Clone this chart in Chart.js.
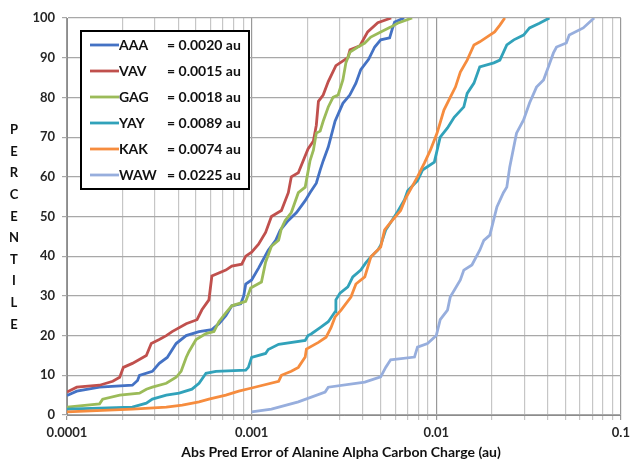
<!DOCTYPE html>
<html>
<head>
<meta charset="utf-8">
<script src="https://cdn.jsdelivr.net/npm/chart.js@4/dist/chart.umd.min.js"></script>
<style>
  html, body { margin: 0; padding: 0; background: #fff; }
  #wrap { width: 635px; height: 461px; position: relative; }
</style>
</head>
<body>
<div id="wrap"><canvas id="chart"></canvas></div>
<script>
// Series names and the values shown in the legend
const seriesNames = ['AAA', 'VAV', 'GAG', 'YAY', 'KAK', 'WAW'];
const legendValues = ['0.0020', '0.0015', '0.0018', '0.0089', '0.0074', '0.0225'];
const seriesColors = ['#4472C4', '#C0504D', '#9BBB59', '#31A2BA', '#F68C3E', '#97AEDD'];

// x tick labels (decades)
const xTickValues = [0.0001, 0.001, 0.01, 0.1];
const xTickLabels = ['0.0001', '0.001', '0.01', '0.1'];
const yTickValues = [0, 10, 20, 30, 40, 50, 60, 70, 80, 90, 100];

const xTitle = 'Abs Pred Error of Alanine Alpha Carbon Charge (au)';
const yTitle = 'PERCENTILE';

// [abs error, percentile]
const aaaData = [[1e-4,4.9],[1.13e-4,6],[1.5e-4,7],[2.26e-4,7.5],[2.41e-4,8.7],[2.47e-4,10],[2.9e-4,11],[3.16e-4,13],
  [3.49e-4,14.5],[3.9e-4,18],[4.42e-4,20],[5.19e-4,21],[6.09e-4,21.5],[6.65e-4,23],[7.25e-4,25],[7.81e-4,27.5],
  [8.73e-4,28],[9.06e-4,30],[9.29e-4,33],[1.0e-3,34],[1.09e-3,37],[1.23e-3,41.5],[1.35e-3,44],[1.43e-3,46.6],
  [1.58e-3,49],[1.75e-3,51],[1.95e-3,54],[2.07e-3,56],[2.24e-3,58.4],[2.35e-3,61.7],[2.44e-3,64],[2.6e-3,67.5],
  [2.83e-3,74],[3.12e-3,78.5],[3.4e-3,80.6],[3.67e-3,83.6],[3.9e-3,87],[4.3e-3,89.6],[4.64e-3,92.7],[5.0e-3,94.5],
  [5.59e-3,95],[5.8e-3,97.5],[5.95e-3,99],[6.7e-3,100]];

const vavData = [[1e-4,5.8],[1.13e-4,7],[1.5e-4,7.5],[1.77e-4,8.5],[1.93e-4,9.5],[2.02e-4,12],[2.26e-4,13],[2.69e-4,15],
  [2.86e-4,18],[3.16e-4,19],[3.45e-4,20],[3.71e-4,21],[4.42e-4,23],[5.06e-4,24],[5.38e-4,26.5],[5.87e-4,29],
  [6.09e-4,35],[7.25e-4,36.5],[7.81e-4,37.5],[8.84e-4,38],[9.29e-4,40],[1.0e-3,41],[1.09e-3,43],[1.19e-3,46],
  [1.28e-3,50],[1.45e-3,51.5],[1.58e-3,56],[1.64e-3,60],[1.79e-3,61],[1.9e-3,64],[2.02e-3,67],[2.16e-3,69],
  [2.24e-3,73],[2.3e-3,79],[2.44e-3,80.6],[2.6e-3,84],[2.86e-3,88],[3.32e-3,90],[3.41e-3,92],[3.86e-3,93],
  [4.25e-3,96.5],[4.82e-3,98.8],[5.7e-3,100]];

const gagData = [[1e-4,2],[1.5e-4,2.8],[1.56e-4,4],[1.93e-4,5],[2.47e-4,5.5],[2.69e-4,6.5],[2.9e-4,7],[3.45e-4,8],
  [3.9e-4,9.5],[4.15e-4,11],[4.42e-4,14.5],[4.58e-4,16],[5.0e-4,19],[5.66e-4,20.5],[6.25e-4,21],[6.65e-4,23.5],
  [7.25e-4,25.7],[7.81e-4,27.5],[9.29e-4,28.6],[9.88e-4,32],[1.13e-3,33.5],[1.19e-3,38.5],[1.28e-3,42.5],
  [1.4e-3,44],[1.45e-3,47],[1.52e-3,49],[1.64e-3,51],[1.79e-3,56],[1.95e-3,57.4],[2.07e-3,64],[2.16e-3,66.7],
  [2.24e-3,71],[2.35e-3,71.5],[2.44e-3,74],[2.6e-3,77.6],[2.76e-3,80],[2.94e-3,80.6],[3.12e-3,84.4],
  [3.24e-3,88.7],[3.41e-3,91.4],[3.76e-3,92.7],[4.1e-3,93.7],[4.42e-3,95.2],[5.0e-3,96.5],[5.66e-3,97.7],
  [6.17e-3,98.7],[7.4e-3,100]];

const yayData = [[1e-4,1.5],[2.26e-4,2],[2.69e-4,3],[2.9e-4,4],[3.45e-4,5],[4.05e-4,5.5],[4.75e-4,6.5],[5.19e-4,8],
  [5.66e-4,10.5],[6.41e-4,11],[9.29e-4,11.3],[9.6e-4,12],[1.0e-3,14.5],[1.19e-3,15.5],[1.23e-3,16.5],
  [1.4e-3,17.8],[1.95e-3,18.8],[2.02e-3,20],[2.1e-3,20.4],[2.35e-3,22],[2.6e-3,23.5],[2.83e-3,26],[2.86e-3,29],
  [3.01e-3,30.7],[3.32e-3,32.3],[3.53e-3,34.8],[3.9e-3,36.5],[4.15e-3,38.3],[4.42e-3,39.8],[4.82e-3,41.5],
  [5.0e-3,42.8],[5.32e-3,46.6],[5.66e-3,48.5],[6.17e-3,51.2],[6.73e-3,54.2],[7.0e-3,56.5],[7.91e-3,59],
  [8.42e-3,61.7],[9.76e-3,63.7],[1.05e-2,70],[1.15e-2,72.3],[1.25e-2,75],[1.41e-2,77.6],[1.47e-2,81],
  [1.6e-2,83.6],[1.72e-2,87.7],[2.05e-2,88.7],[2.21e-2,89.4],[2.41e-2,93.2],[2.63e-2,94.5],[2.97e-2,95.7],
  [3.2e-2,97.5],[3.62e-2,98.7],[4.1e-2,100]];

const kakData = [[1e-4,0.8],[2.26e-4,1.5],[3.45e-4,2],[4.21e-4,2.5],[5.19e-4,3.3],[5.87e-4,4],[7.25e-4,5],
  [8.52e-4,6],[1.0e-3,6.8],[1.4e-3,8.5],[1.45e-3,10],[1.64e-3,11],[1.79e-3,12],[1.95e-3,14.6],[1.98e-3,16.6],
  [2.3e-3,18.3],[2.53e-3,19.6],[2.69e-3,22],[2.83e-3,24.7],[3.05e-3,26.4],[3.45e-3,29.7],[3.67e-3,33],
  [4.1e-3,34.8],[4.42e-3,39.8],[4.64e-3,40.8],[5.0e-3,42.3],[5.25e-3,46.6],[5.66e-3,48.5],[6.41e-3,51.5],
  [6.81e-3,54.5],[7.91e-3,60],[8.63e-3,63.5],[9.29e-3,66.7],[1.01e-2,71],[1.1e-2,76.8],[1.19e-2,80],
  [1.27e-2,82.6],[1.35e-2,86.4],[1.47e-2,89.4],[1.6e-2,93.2],[1.72e-2,94],[1.95e-2,95.7],[2.07e-2,96.5],
  [2.21e-2,98.2],[2.35e-2,100]];

const wawData = [[1e-3,0.8],[1.28e-3,1.5],[1.79e-3,3.3],[2.5e-3,5.8],[2.6e-3,7],[4.1e-3,8.3],[5.0e-3,9.6],
  [5.32e-3,12],[5.66e-3,13.9],[7.62e-3,14.6],[7.91e-3,17.1],[8.96e-3,18],[1.0e-2,20],[1.05e-2,24],
  [1.15e-2,26.4],[1.19e-2,29.7],[1.35e-2,34],[1.41e-2,36.5],[1.56e-2,37.8],[1.72e-2,41.5],[1.81e-2,44],
  [1.95e-2,45.3],[2.13e-2,52.4],[2.31e-2,56],[2.41e-2,57.4],[2.5e-2,62.5],[2.72e-2,71],[2.97e-2,74.3],
  [3.2e-2,78.6],[3.49e-2,82.6],[3.81e-2,84.4],[4.05e-2,87.7],[4.31e-2,91.2],[4.48e-2,92.7],[5.06e-2,93.7],
  [5.25e-2,95.7],[6.25e-2,97.5],[7.16e-2,100]];

const allSeries = [aaaData, vavData, gagData, yayData, kakData, wawData];

const FONT = 'Lato, "Open Sans", sans-serif';

function isDecade(v) {
  const l = Math.log10(v);
  return Math.abs(l - Math.round(l)) < 1e-6;
}

// all 1..9 multiples inside each decade for the minor grid
function buildLogTicks() {
  const out = [];
  for (let d = 0; d < xTickValues.length - 1; d++) {
    for (let m = 1; m <= 9; m++) out.push({ value: xTickValues[d] * m });
  }
  out.push({ value: xTickValues[xTickValues.length - 1] });
  return out;
}

// legend box + axis titles
const decorPlugin = {
  id: 'decor',
  afterDatasetsDraw(chart) {
    const ctx = chart.ctx;
    ctx.save();
    // legend
    const bx = 81, by = 31, bw = 168, bh = 158;
    ctx.fillStyle = '#fff';
    ctx.fillRect(bx, by, bw, bh);
    ctx.strokeStyle = '#000';
    ctx.lineWidth = 2;
    ctx.strokeRect(bx, by, bw, bh);
    ctx.font = 'bold 14px ' + FONT;
    ctx.textBaseline = 'middle';
    seriesNames.forEach((name, i) => {
      const y = 45 + i * 26;
      ctx.strokeStyle = seriesColors[i];
      ctx.lineWidth = 2.8;
      ctx.beginPath();
      ctx.moveTo(90, y);
      ctx.lineTo(119, y);
      ctx.stroke();
      ctx.fillStyle = '#111';
      ctx.textAlign = 'left';
      ctx.fillText(name, 119, y);
      ctx.fillText('= ' + legendValues[i] + ' au', 167, y);
    });
    ctx.restore();
  },
  afterDraw(chart) {
    const ctx = chart.ctx;
    ctx.save();
    ctx.fillStyle = '#111';
    ctx.textAlign = 'center';
    ctx.textBaseline = 'middle';
    ctx.font = 'bold 14px ' + FONT;
    ctx.fillText(xTitle, 341, 452);
    ctx.font = 'bold 13px ' + FONT;
    yTitle.split('').forEach((ch, i) => {
      ctx.fillText(ch, 14, 130 + i * 21.6);
    });
    ctx.restore();
  }
};

const ctx = document.getElementById('chart').getContext('2d');
new Chart(ctx, {
  type: 'line',
  data: {
    datasets: allSeries.map((s, i) => ({
      label: seriesNames[i],
      data: s.map(p => ({ x: p[0], y: p[1] })),
      borderColor: seriesColors[i],
      backgroundColor: seriesColors[i],
      borderWidth: 2.8,
      pointRadius: 0,
      tension: 0,
      fill: false,
      order: seriesNames.length - i
    }))
  },
  options: {
    responsive: true,
    maintainAspectRatio: false,
    animation: false,
    layout: { padding: { left: 0, right: 10, top: 18, bottom: 0 } },
    plugins: {
      legend: { display: false },
      tooltip: { enabled: false }
    },
    scales: {
      x: {
        type: 'logarithmic',
        min: xTickValues[0],
        max: xTickValues[xTickValues.length - 1],
        afterBuildTicks: scale => { scale.ticks = buildLogTicks(); },
        afterFit: scale => { scale.height = 46; },
        grid: {
          color: c => isDecade(c.tick.value) ? '#999999' : '#c6c6c6',
          lineWidth: 1.2,
          tickLength: 5
        },
        border: { color: '#8c8c8c' },
        ticks: {
          autoSkip: false,
          maxRotation: 0,
          padding: 5,
          color: '#262626',
          font: { family: FONT, size: 13, weight: 'bold' },
          callback: value => {
            const i = xTickValues.findIndex(v => Math.abs(v - value) / v < 1e-6);
            return i >= 0 ? xTickLabels[i] : '';
          }
        }
      },
      y: {
        min: 0,
        max: 100,
        afterBuildTicks: scale => { scale.ticks = yTickValues.map(v => ({ value: v })); },
        afterFit: scale => { scale.width = 67; },
        grid: { color: '#a8a8a8', lineWidth: 1.2, tickLength: 5 },
        border: { color: '#8c8c8c' },
        ticks: {
          padding: 7,
          color: '#262626',
          font: { family: FONT, size: 13, weight: 'bold' }
        }
      }
    }
  },
  plugins: [decorPlugin]
});
</script>
</body>
</html>
